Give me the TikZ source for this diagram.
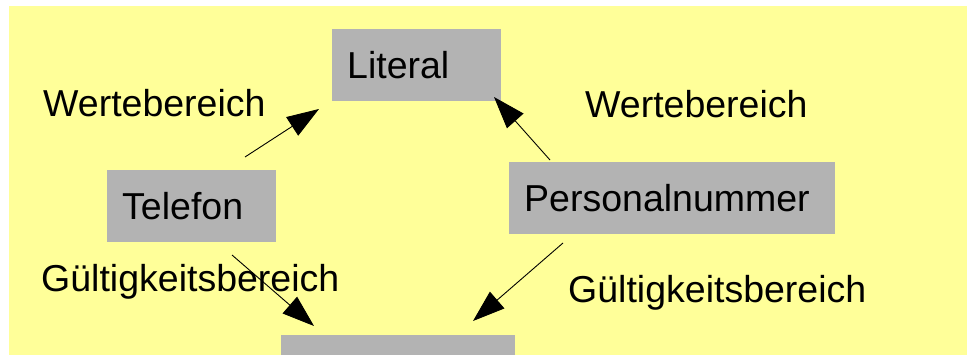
\documentclass[tikz,border=0pt]{standalone}
\usepackage{fontspec}
\setmainfont{Liberation Sans}
\usetikzlibrary{arrows.meta}
\definecolor{pale}{HTML}{FFFF99}
\definecolor{boxgray}{HTML}{B3B3B3}
\begin{document}
\begin{tikzpicture}[x=1pt,y=-1pt,
  every node/.style={font=\fontsize{37.5}{45}\selectfont},
  concept/.style={fill=boxgray, draw=none, anchor=north west, inner xsep=15pt, inner ysep=0pt,
    text height=26pt, text depth=0pt, minimum height=72pt, align=left},
  role/.style={anchor=base west, inner sep=0pt},
  link/.style={draw=black, line width=0.9pt, -{Triangle[length=32pt,width=22pt]}}]
  \useasboundingbox (0,0) rectangle (967,355);
  \clip (0,0) rectangle (967,355);
  \fill[pale] (9,6) rectangle (967,355);

  % concept boxes
  \node[concept, text width=139pt] (lit) at (332,29) {Literal};
  \node[concept, text width=139pt] (tel) at (107,170) {Telefon};
  \node[concept, text width=296pt] (pers) at (509,162) {Personalnummer};
  \node[concept, minimum width=234pt] (low) at (281,335) {};

  % role labels
  \node[role] (w1) at (43,117) {Wertebereich};
  \node[role] (w2) at (585,118) {Wertebereich};
  \node[role] (g1) at (41,292) {Gültigkeitsbereich};
  \node[role] (g2) at (568,303) {Gültigkeitsbereich};

  % connector ends
  \coordinate (telA) at (245,157);
  \coordinate (litA) at (319,109);
  \coordinate (persA) at (550,160);
  \coordinate (litB) at (494,97);
  \coordinate (telB) at (232,255);
  \coordinate (lowA) at (314,326);
  \coordinate (persB) at (563,243);
  \coordinate (lowB) at (473,321);

  \draw[link] (telA) -- (litA);
  \draw[link] (persA) -- (litB);
  \draw[link] (telB) -- (lowA);
  \draw[link] (persB) -- (lowB);
\end{tikzpicture}
\end{document}
